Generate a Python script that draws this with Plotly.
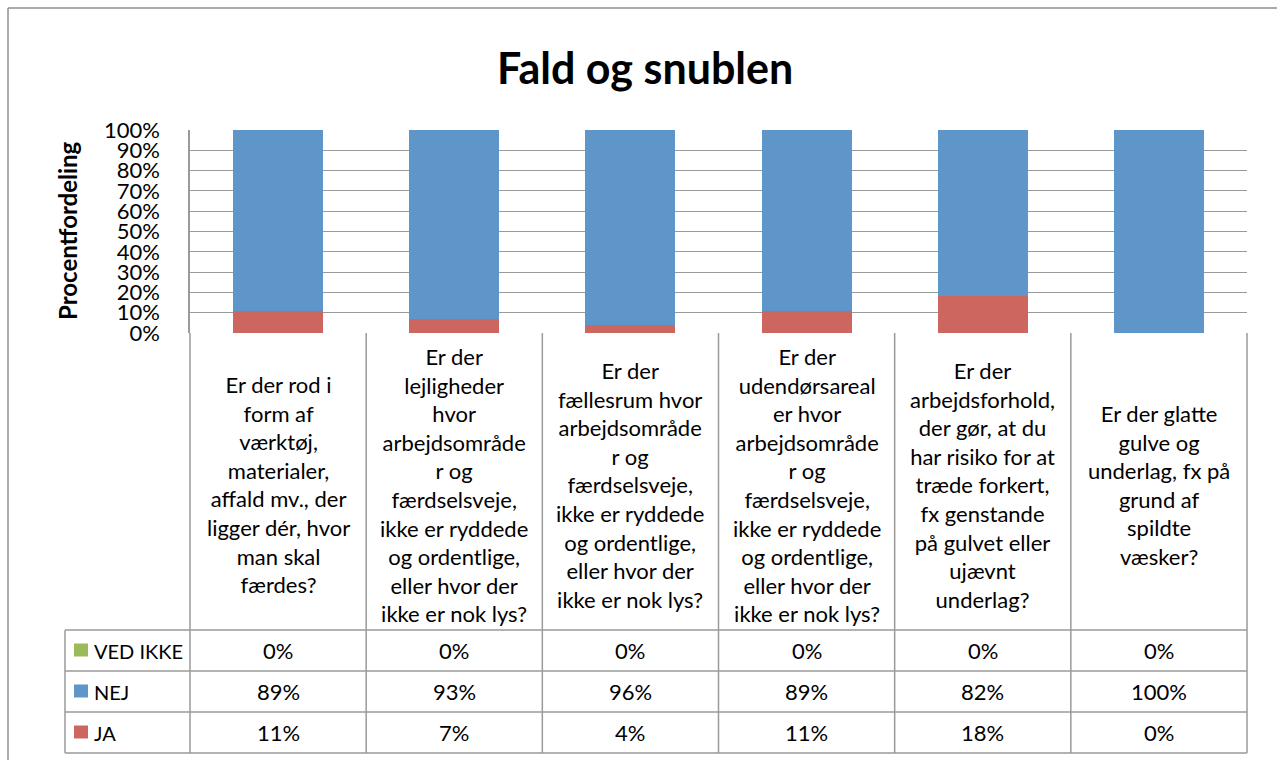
import plotly.graph_objects as go

# ---------------- data ----------------
categories = [
    "Er der rod i<br>form af<br>værktøj,<br>materialer,<br>affald mv., der<br>ligger dér, hvor<br>man skal<br>færdes?",
    "Er der<br>lejligheder<br>hvor<br>arbejdsområde<br>r og<br>færdselsveje,<br>ikke er ryddede<br>og ordentlige,<br>eller hvor der<br>ikke er nok lys?",
    "Er der<br>fællesrum hvor<br>arbejdsområde<br>r og<br>færdselsveje,<br>ikke er ryddede<br>og ordentlige,<br>eller hvor der<br>ikke er nok lys?",
    "Er der<br>udendørsareal<br>er hvor<br>arbejdsområde<br>r og<br>færdselsveje,<br>ikke er ryddede<br>og ordentlige,<br>eller hvor der<br>ikke er nok lys?",
    "Er der<br>arbejdsforhold,<br>der gør, at du<br>har risiko for at<br>træde forkert,<br>fx genstande<br>på gulvet eller<br>ujævnt<br>underlag?",
    "Er der glatte<br>gulve og<br>underlag, fx på<br>grund af<br>spildte<br>væsker?",
]
cat_keys = ["Q1", "Q2", "Q3", "Q4", "Q5", "Q6"]
ja = [11, 7, 4, 11, 18, 0]
nej = [89, 93, 96, 89, 82, 100]
ved_ikke = [0, 0, 0, 0, 0, 0]
tick_vals = [0, 10, 20, 30, 40, 50, 60, 70, 80, 90, 100]
tick_text = [f"{v}%" for v in tick_vals]

series = [  # table row order (top to bottom)
    ("VED IKKE", ved_ikke, "#9BBB59"),
    ("NEJ", nej, "#5F96C9"),
    ("JA", ja, "#CD665F"),
]

title = "Fald og snublen"
ytitle = "Procentfordeling"

# ---------------- layout geometry (pixels) ----------------
W, H = 1277, 760
PL, PR, PT, PB = 190, 1247, 130, 333   # plot area
FONT = "Lato"
GRID = "#9a9a9a"


def px(x):
    return (x - PL) / (PR - PL)


def py(y):
    return (PB - y) / (PB - PT)


fig = go.Figure()
for name, vals, col in reversed(series):
    fig.add_trace(go.Bar(
        x=cat_keys, y=vals, name=name, marker=dict(color=col, line=dict(width=0)),
        showlegend=False,
    ))

shapes = []
annotations = []

# outer chart frame (left & top)
shapes.append(dict(type="line", xref="paper", yref="paper", x0=px(8), x1=px(W + 5),
                   y0=py(8), y1=py(8), line=dict(color="#8f8f8f", width=1.5)))
shapes.append(dict(type="line", xref="paper", yref="paper", x0=px(8), x1=px(8),
                   y0=py(8), y1=py(H + 5), line=dict(color="#8f8f8f", width=1.5)))

# data table geometry
hdr_bottom = 630
row_edges = [630, 671, 712, 753]
legend_left = 65
n = len(cat_keys)
lw = 1.5
for k in range(n + 1):
    shapes.append(dict(type="line", xref="paper", yref="paper", x0=k / n, x1=k / n,
                       y0=py(PB), y1=py(row_edges[-1]), line=dict(color=GRID, width=lw)))
shapes.append(dict(type="line", xref="paper", yref="paper", x0=px(legend_left), x1=px(legend_left),
                   y0=py(row_edges[0]), y1=py(row_edges[-1]), line=dict(color=GRID, width=lw)))
for ye in row_edges:
    shapes.append(dict(type="line", xref="paper", yref="paper", x0=px(legend_left), x1=1,
                       y0=py(ye), y1=py(ye), line=dict(color=GRID, width=lw)))

# header cells (category texts)
for key, txt in zip(cat_keys, categories):
    annotations.append(dict(x=key, xref="x", y=py((PB + hdr_bottom) / 2 + 3), yref="paper",
                            text=txt, showarrow=False, xanchor="center", yanchor="middle",
                            align="center", font=dict(family=FONT, size=22, color="black")))

# value rows
for r, (name, vals, col) in enumerate(series):
    yc = (row_edges[r] + row_edges[r + 1]) / 2
    shapes.append(dict(type="rect", xref="paper", yref="paper", x0=px(74), x1=px(88),
                       y0=py(yc - 7), y1=py(yc + 6), fillcolor=col, line=dict(width=0)))
    annotations.append(dict(x=px(92), xref="paper", y=py(yc), yref="paper", text=name,
                            showarrow=False, xanchor="left", yanchor="middle",
                            font=dict(family=FONT, size=20, color="black")))
    for key, v in zip(cat_keys, vals):
        annotations.append(dict(x=key, xref="x", y=py(yc), yref="paper", text=f"{v}%",
                                showarrow=False, xanchor="center", yanchor="middle",
                                font=dict(family=FONT, size=22, color="black")))

# title and y-axis title
annotations.append(dict(x=px(645), xref="paper", y=py(68), yref="paper", text=f"<b>{title}</b>",
                        showarrow=False, xanchor="center", yanchor="middle",
                        font=dict(family=FONT, size=43, color="black")))
annotations.append(dict(x=px(67), xref="paper", y=py(231), yref="paper", text=f"<b>{ytitle}</b>",
                        showarrow=False, xanchor="center", yanchor="middle", textangle=-90,
                        font=dict(family=FONT, size=24, color="black")))

fig.update_layout(
    width=W, height=H,
    margin=dict(l=PL, r=W - PR, t=PT, b=H - PB, pad=0),
    paper_bgcolor="white", plot_bgcolor="white",
    barmode="stack", bargap=0.49,
    font=dict(family=FONT, color="black"),
    shapes=shapes, annotations=annotations,
    xaxis=dict(showticklabels=False, showgrid=False, zeroline=False, showline=False,
               ticks="", range=[-0.5, n - 0.5], fixedrange=True),
    yaxis=dict(range=[0, 100], tickvals=tick_vals, ticktext=tick_text, showgrid=True,
               gridcolor=GRID, gridwidth=1, zeroline=False, showline=True, linecolor=GRID,
               linewidth=lw, ticks="", ticklabelstandoff=24,
               tickfont=dict(family=FONT, size=22, color="black"), fixedrange=True),
)

fig.write_html("out.html", config={"displayModeBar": False},
               post_script="document.body.style.margin='0';document.body.style.overflow='hidden';")
